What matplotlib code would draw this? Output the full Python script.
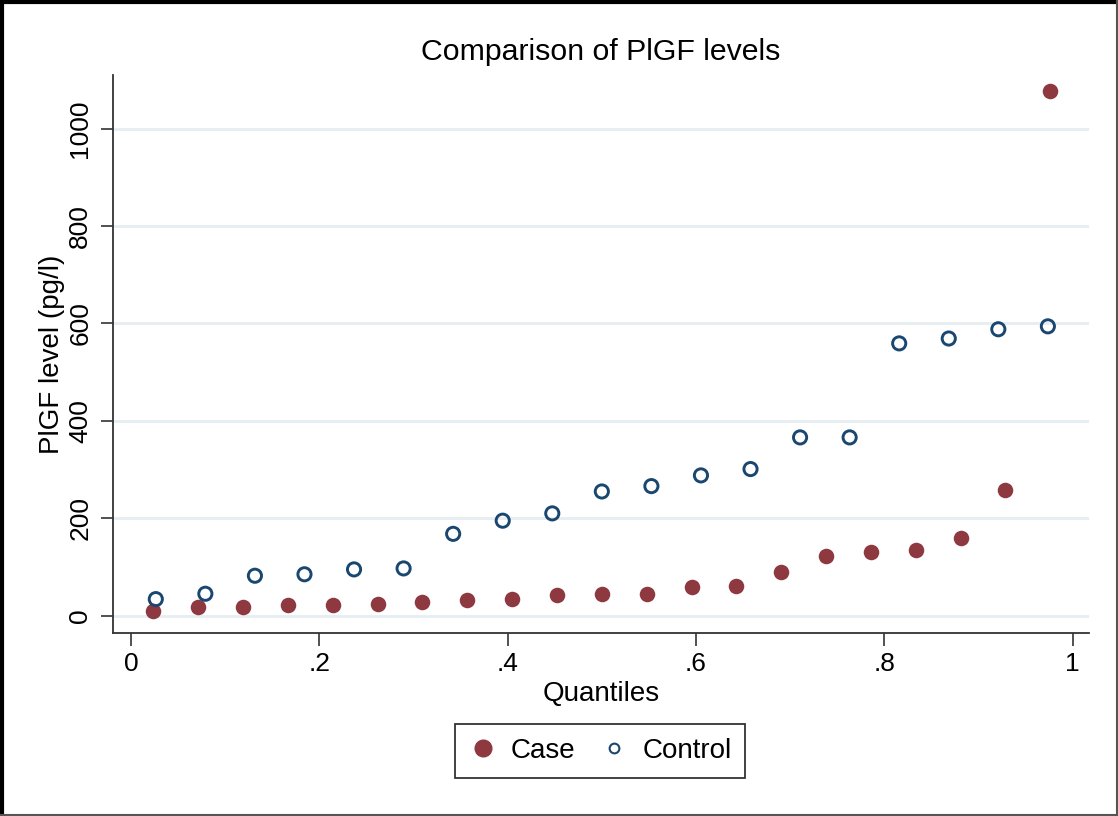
import matplotlib
matplotlib.use('Agg')
import matplotlib.pyplot as plt
from matplotlib.lines import Line2D
import numpy as np

plt.rcParams['font.family'] = ['Liberation Sans', 'DejaVu Sans']

# PlGF values (pg/l) sorted, one per quantile
case_vals = [10, 18, 18, 21, 21, 23, 28, 32, 34, 42, 44, 44, 59, 60,
             89, 123, 131, 134, 160, 257, 1077]
control_vals = [34, 45, 82, 85, 95, 97, 168, 195, 210, 255, 266, 288, 301,
                366, 366, 559, 569, 588, 594]

x_ticks = [0, 0.2, 0.4, 0.6, 0.8, 1]
x_ticklabels = ['0', '.2', '.4', '.6', '.8', '1']
y_ticks = [0, 200, 400, 600, 800, 1000]

case_q = (np.arange(len(case_vals)) + 0.5) / len(case_vals)
control_q = (np.arange(len(control_vals)) + 0.5) / len(control_vals)

case_col = '#8E3840'
control_col = '#1A476F'

fig = plt.figure(figsize=(11.18, 8.16), dpi=100)
ax = fig.add_axes([0.1011, 0.2243, 0.8730, 0.6838])

ax.scatter(case_q, case_vals, s=125, color=case_col, zorder=3, linewidths=0)
ax.scatter(control_q, control_vals, s=90, facecolors='none',
           edgecolors=control_col, linewidths=2.1, zorder=3)

ax.set_xlim(-0.0191, 1.0174)
ax.set_ylim(-35.5, 1110)
ax.set_xticks(x_ticks)
ax.set_xticklabels(x_ticklabels)
ax.set_yticks(y_ticks)
ax.set_yticklabels([str(v) for v in y_ticks], rotation=90, va='center')
ax.tick_params(axis='both', direction='out', length=9, width=1.1,
               color='#222222', labelsize=19, pad=6)
ax.tick_params(axis='x', pad=5)

ax.yaxis.grid(True, color='#E6EEF1', linewidth=2)
ax.set_axisbelow(True)
for side in ['top', 'right']:
    ax.spines[side].set_visible(False)
for side in ['left', 'bottom']:
    ax.spines[side].set_linewidth(1.3)
    ax.spines[side].set_color('#333333')

ax.set_xlabel('Quantiles', fontsize=20, labelpad=3)
ax.set_ylabel('PlGF level (pg/l)', fontsize=20, labelpad=2)
fig.text(0.537, 0.936, 'Comparison of PlGF levels', fontsize=21.8,
         ha='center', va='center')

handles = [
    Line2D([], [], marker='o', linestyle='none', markersize=12,
           markerfacecolor=case_col, markeredgecolor=case_col),
    Line2D([], [], marker='o', linestyle='none', markersize=7,
           markerfacecolor='none', markeredgecolor=control_col,
           markeredgewidth=1.5),
]
leg = fig.legend(handles, ['Case', 'Control'], loc='center',
                 bbox_to_anchor=(0.537, 0.0797), ncol=2, fontsize=20,
                 frameon=True, fancybox=False, handlelength=1.0,
                 handletextpad=0.5, columnspacing=0.9, borderpad=0.5)
leg.get_frame().set_edgecolor('black')
leg.get_frame().set_linewidth(1.3)

# outer frame
fig.add_artist(plt.Line2D([0.0015, 0.0015], [0, 1], color='black', lw=3,
                          transform=fig.transFigure))
fig.add_artist(plt.Line2D([0, 1], [0.998, 0.998], color='black', lw=3,
                          transform=fig.transFigure))
fig.add_artist(plt.Line2D([0.9992, 0.9992], [0, 1], color='#555555', lw=1.5,
                          transform=fig.transFigure))
fig.add_artist(plt.Line2D([0, 1], [0.001, 0.001], color='#555555', lw=1.5,
                          transform=fig.transFigure))

fig.savefig('out.png', dpi=100)
